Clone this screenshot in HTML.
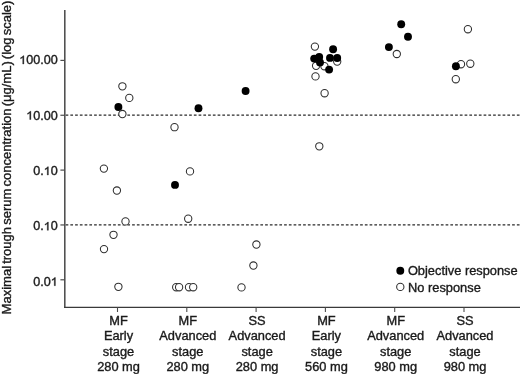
<!DOCTYPE html><html><head><meta charset="utf-8"><style>html,body{margin:0;padding:0;background:#fff;}svg{display:block;filter:blur(0.3px);}text{font-family:"Liberation Sans",sans-serif;font-size:12px;fill:#1a1a1a;stroke:#1a1a1a;stroke-width:0.35px;}.g{fill:#1a1a1a;stroke:#1a1a1a;stroke-width:58px;}</style></head><body>
<svg width="520" height="374" viewBox="0 0 520 374">
<line x1="65.6" y1="115.1" x2="520" y2="115.1" stroke="#2a2a2a" stroke-width="1.4" stroke-dasharray="2.7 2.05"/>
<line x1="65.6" y1="224.9" x2="520" y2="224.9" stroke="#2a2a2a" stroke-width="1.4" stroke-dasharray="2.7 2.05"/>
<line x1="64.8" y1="10.0" x2="64.8" y2="308.04999999999995" stroke="#4d4d4d" stroke-width="1.55"/>
<line x1="64.05" y1="307.4" x2="520" y2="307.4" stroke="#3a3a3a" stroke-width="1.3"/>
<line x1="60.4" y1="60.4" x2="64.8" y2="60.4" stroke="#4d4d4d" stroke-width="1.2"/>
<line x1="60.4" y1="115.25" x2="64.8" y2="115.25" stroke="#4d4d4d" stroke-width="1.2"/>
<line x1="60.4" y1="170.1" x2="64.8" y2="170.1" stroke="#4d4d4d" stroke-width="1.2"/>
<line x1="60.4" y1="224.95" x2="64.8" y2="224.95" stroke="#4d4d4d" stroke-width="1.2"/>
<line x1="60.4" y1="279.8" x2="64.8" y2="279.8" stroke="#4d4d4d" stroke-width="1.2"/>
<path class="g" transform="translate(19.16,64.0) scale(0.006152,-0.005859)" d="M763,0 L583,0 L583,1098 Q518,1038 412,979 Q306,920 221,890 L221,1057 Q372,1125 485,1221 Q598,1318 645,1409 L763,1409 Z"/>
<text transform="translate(26.17,64.0) scale(1.05,1)">00.00</text>
<path class="g" transform="translate(26.17,119.5) scale(0.006152,-0.005859)" d="M763,0 L583,0 L583,1098 Q518,1038 412,979 Q306,920 221,890 L221,1057 Q372,1125 485,1221 Q598,1318 645,1409 L763,1409 Z"/>
<text transform="translate(33.18,119.5) scale(1.05,1)">0.00</text>
<text transform="translate(33.18,175.0) scale(1.05,1)">0.</text>
<path class="g" transform="translate(43.68,175.0) scale(0.006152,-0.005859)" d="M763,0 L583,0 L583,1098 Q518,1038 412,979 Q306,920 221,890 L221,1057 Q372,1125 485,1221 Q598,1318 645,1409 L763,1409 Z"/>
<text transform="translate(50.69,175.0) scale(1.05,1)">0</text>
<text transform="translate(33.18,230.3) scale(1.05,1)">0.</text>
<path class="g" transform="translate(43.68,230.3) scale(0.006152,-0.005859)" d="M763,0 L583,0 L583,1098 Q518,1038 412,979 Q306,920 221,890 L221,1057 Q372,1125 485,1221 Q598,1318 645,1409 L763,1409 Z"/>
<text transform="translate(50.69,230.3) scale(1.05,1)">0</text>
<text transform="translate(33.18,285.7) scale(1.05,1)">0.0</text>
<path class="g" transform="translate(50.69,285.7) scale(0.006152,-0.005859)" d="M763,0 L583,0 L583,1098 Q518,1038 412,979 Q306,920 221,890 L221,1057 Q372,1125 485,1221 Q598,1318 645,1409 L763,1409 Z"/>
<line x1="117.5" y1="307.4" x2="117.5" y2="312" stroke="#4d4d4d" stroke-width="1.1"/>
<text transform="translate(118.5,325.3) scale(1.07,1)" text-anchor="middle">MF</text>
<text transform="translate(118.5,340.45) scale(1.07,1)" text-anchor="middle">Early</text>
<text transform="translate(118.5,355.6) scale(1.07,1)" text-anchor="middle">stage</text>
<text transform="translate(118.5,370.75) scale(1.07,1)" text-anchor="middle">280 mg</text>
<line x1="186.8" y1="307.4" x2="186.8" y2="312" stroke="#4d4d4d" stroke-width="1.1"/>
<text transform="translate(187.8,325.3) scale(1.07,1)" text-anchor="middle">MF</text>
<text transform="translate(187.8,340.45) scale(1.07,1)" text-anchor="middle">Advanced</text>
<text transform="translate(187.8,355.6) scale(1.07,1)" text-anchor="middle">stage</text>
<text transform="translate(187.8,370.75) scale(1.07,1)" text-anchor="middle">280 mg</text>
<line x1="256.1" y1="307.4" x2="256.1" y2="312" stroke="#4d4d4d" stroke-width="1.1"/>
<text transform="translate(257.1,325.3) scale(1.07,1)" text-anchor="middle">SS</text>
<text transform="translate(257.1,340.45) scale(1.07,1)" text-anchor="middle">Advanced</text>
<text transform="translate(257.1,355.6) scale(1.07,1)" text-anchor="middle">stage</text>
<text transform="translate(257.1,370.75) scale(1.07,1)" text-anchor="middle">280 mg</text>
<line x1="325.4" y1="307.4" x2="325.4" y2="312" stroke="#4d4d4d" stroke-width="1.1"/>
<text transform="translate(326.4,325.3) scale(1.07,1)" text-anchor="middle">MF</text>
<text transform="translate(326.4,340.45) scale(1.07,1)" text-anchor="middle">Early</text>
<text transform="translate(326.4,355.6) scale(1.07,1)" text-anchor="middle">stage</text>
<text transform="translate(326.4,370.75) scale(1.07,1)" text-anchor="middle">560 mg</text>
<line x1="394.7" y1="307.4" x2="394.7" y2="312" stroke="#4d4d4d" stroke-width="1.1"/>
<text transform="translate(395.7,325.3) scale(1.07,1)" text-anchor="middle">MF</text>
<text transform="translate(395.7,340.45) scale(1.07,1)" text-anchor="middle">Advanced</text>
<text transform="translate(395.7,355.6) scale(1.07,1)" text-anchor="middle">stage</text>
<text transform="translate(395.7,370.75) scale(1.07,1)" text-anchor="middle">980 mg</text>
<line x1="464.0" y1="307.4" x2="464.0" y2="312" stroke="#4d4d4d" stroke-width="1.1"/>
<text transform="translate(465.0,325.3) scale(1.07,1)" text-anchor="middle">SS</text>
<text transform="translate(465.0,340.45) scale(1.07,1)" text-anchor="middle">Advanced</text>
<text transform="translate(465.0,355.6) scale(1.07,1)" text-anchor="middle">stage</text>
<text transform="translate(465.0,370.75) scale(1.07,1)" text-anchor="middle">980 mg</text>
<text transform="translate(11.0,157.5) rotate(-90) scale(1.085,1)" text-anchor="middle" word-spacing="-1.4">Maximal trough serum concentration (μg/mL) (log scale)</text>
<circle cx="118.4" cy="107.0" r="3.95" fill="#000"/>
<circle cx="122.4" cy="86.3" r="3.65" fill="#fff" stroke="#2e2e2e" stroke-width="1.05"/>
<circle cx="129.3" cy="97.9" r="3.65" fill="#fff" stroke="#2e2e2e" stroke-width="1.05"/>
<circle cx="122.4" cy="114.0" r="3.65" fill="#fff" stroke="#2e2e2e" stroke-width="1.05"/>
<circle cx="103.9" cy="168.6" r="3.65" fill="#fff" stroke="#2e2e2e" stroke-width="1.05"/>
<circle cx="116.9" cy="190.5" r="3.65" fill="#fff" stroke="#2e2e2e" stroke-width="1.05"/>
<circle cx="125.5" cy="221.4" r="3.65" fill="#fff" stroke="#2e2e2e" stroke-width="1.05"/>
<circle cx="113.5" cy="234.8" r="3.65" fill="#fff" stroke="#2e2e2e" stroke-width="1.05"/>
<circle cx="104.0" cy="249.1" r="3.65" fill="#fff" stroke="#2e2e2e" stroke-width="1.05"/>
<circle cx="118.4" cy="286.8" r="3.65" fill="#fff" stroke="#2e2e2e" stroke-width="1.05"/>
<circle cx="198.5" cy="108.2" r="3.95" fill="#000"/>
<circle cx="175.0" cy="184.9" r="3.95" fill="#000"/>
<circle cx="174.5" cy="127.2" r="3.65" fill="#fff" stroke="#2e2e2e" stroke-width="1.05"/>
<circle cx="190.0" cy="171.4" r="3.65" fill="#fff" stroke="#2e2e2e" stroke-width="1.05"/>
<circle cx="188.2" cy="218.7" r="3.65" fill="#fff" stroke="#2e2e2e" stroke-width="1.05"/>
<circle cx="176.2" cy="287.2" r="3.65" fill="#fff" stroke="#2e2e2e" stroke-width="1.05"/>
<circle cx="179.1" cy="287.2" r="3.65" fill="#fff" stroke="#2e2e2e" stroke-width="1.05"/>
<circle cx="189.0" cy="287.2" r="3.65" fill="#fff" stroke="#2e2e2e" stroke-width="1.05"/>
<circle cx="193.2" cy="287.2" r="3.65" fill="#fff" stroke="#2e2e2e" stroke-width="1.05"/>
<circle cx="245.6" cy="91.0" r="3.95" fill="#000"/>
<circle cx="256.4" cy="244.5" r="3.65" fill="#fff" stroke="#2e2e2e" stroke-width="1.05"/>
<circle cx="253.4" cy="265.5" r="3.65" fill="#fff" stroke="#2e2e2e" stroke-width="1.05"/>
<circle cx="241.5" cy="287.4" r="3.65" fill="#fff" stroke="#2e2e2e" stroke-width="1.05"/>
<circle cx="314.9" cy="46.6" r="3.65" fill="#fff" stroke="#2e2e2e" stroke-width="1.05"/>
<circle cx="316.1" cy="65.8" r="3.65" fill="#fff" stroke="#2e2e2e" stroke-width="1.05"/>
<circle cx="324.4" cy="66.2" r="3.65" fill="#fff" stroke="#2e2e2e" stroke-width="1.05"/>
<circle cx="337.2" cy="61.6" r="3.65" fill="#fff" stroke="#2e2e2e" stroke-width="1.05"/>
<circle cx="315.5" cy="76.4" r="3.65" fill="#fff" stroke="#2e2e2e" stroke-width="1.05"/>
<circle cx="324.6" cy="93.2" r="3.65" fill="#fff" stroke="#2e2e2e" stroke-width="1.05"/>
<circle cx="319.3" cy="146.3" r="3.65" fill="#fff" stroke="#2e2e2e" stroke-width="1.05"/>
<circle cx="314.2" cy="58.6" r="3.95" fill="#000"/>
<circle cx="319.2" cy="57.0" r="3.95" fill="#000"/>
<circle cx="320.0" cy="62.4" r="3.95" fill="#000"/>
<circle cx="329.1" cy="69.6" r="3.95" fill="#000"/>
<circle cx="333.1" cy="49.2" r="3.95" fill="#000"/>
<circle cx="330.0" cy="57.9" r="3.95" fill="#000"/>
<circle cx="337.2" cy="58.0" r="3.95" fill="#000"/>
<circle cx="401.2" cy="24.3" r="3.95" fill="#000"/>
<circle cx="408.0" cy="36.8" r="3.95" fill="#000"/>
<circle cx="388.9" cy="47.1" r="3.95" fill="#000"/>
<circle cx="396.8" cy="54.0" r="3.65" fill="#fff" stroke="#2e2e2e" stroke-width="1.05"/>
<circle cx="467.9" cy="29.2" r="3.65" fill="#fff" stroke="#2e2e2e" stroke-width="1.05"/>
<circle cx="461.0" cy="64.2" r="3.65" fill="#fff" stroke="#2e2e2e" stroke-width="1.05"/>
<circle cx="470.3" cy="63.7" r="3.65" fill="#fff" stroke="#2e2e2e" stroke-width="1.05"/>
<circle cx="455.8" cy="79.2" r="3.65" fill="#fff" stroke="#2e2e2e" stroke-width="1.05"/>
<circle cx="455.9" cy="66.2" r="3.95" fill="#000"/>
<circle cx="400.3" cy="270.7" r="3.95" fill="#000"/>
<circle cx="400.3" cy="286.9" r="3.65" fill="#fff" stroke="#2e2e2e" stroke-width="1.05"/>
<text transform="translate(407.9,274.6) scale(1.07,1)">Objective response</text>
<text transform="translate(408.1,291.7) scale(1.07,1)">No response</text>
</svg></body></html>
